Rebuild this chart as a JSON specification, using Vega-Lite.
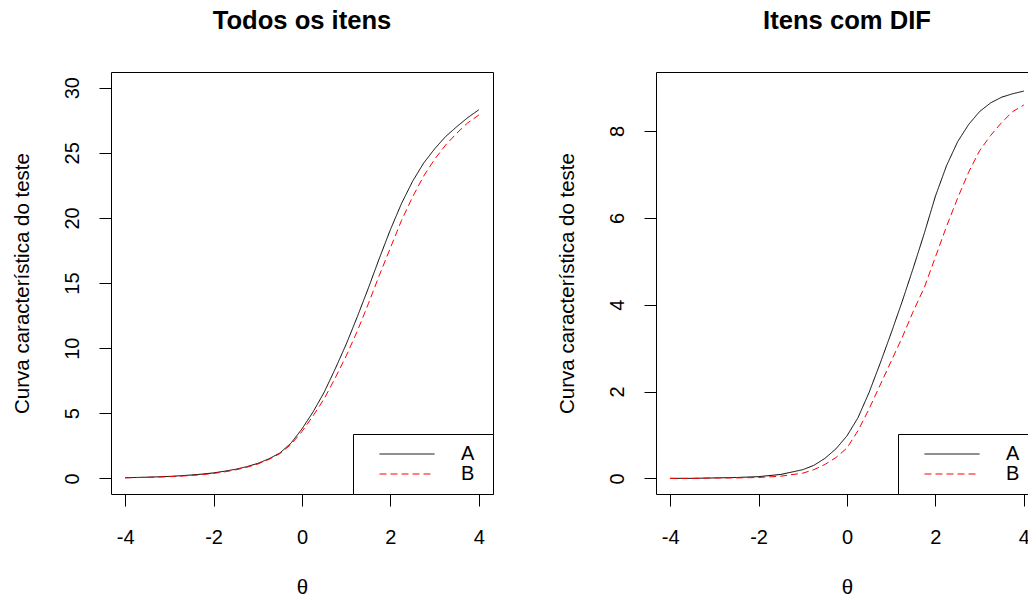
{
  "$schema": "https://vega.github.io/schema/vega-lite/v6.json",
  "padding": {"left": 11, "top": 8, "right": 0, "bottom": 0},
  "spacing": 62,
  "background": "white",
  "config": {
    "font": "Liberation Sans",
    "view": {"stroke": "black", "strokeWidth": 1},
    "axis": {
      "domain": false, "grid": false, "tickColor": "black", "tickSize": 12, "tickWidth": 1,
      "labelFont": "Liberation Sans", "labelFontSize": 20, "labelColor": "black", "labelOverlap": false, "labelFlush": false,
      "labelExpr": "'' + datum.value",
      "titleFont": "Liberation Sans", "titleFontSize": 20.5, "titleFontWeight": "normal", "titleColor": "black"
    },
    "axisY": {"labelAngle": -90, "labelAlign": "center", "labelBaseline": "alphabetic", "labelPadding": 21, "titlePadding": 30},
    "axisX": {"labelPadding": 21, "titlePadding": 30},
    "title": {"font": "Liberation Sans", "fontSize": 25.6, "fontWeight": "bold", "color": "black", "anchor": "middle", "offset": 37},
    "legend": {
      "orient": "bottom-right", "offset": 0, "strokeColor": "black", "fillColor": "white", "padding": 10,
      "labelFont": "Liberation Sans", "labelFontSize": 20, "labelColor": "black",
      "symbolType": "stroke", "symbolSize": 3025, "symbolStrokeWidth": 1, "labelOffset": 26, "rowPadding": 0, "symbolOffset": 16,
      "clipHeight": 20,
      "titleOrient": "right", "titlePadding": 9, "titleFontSize": 1, "titleColor": "white"
    }
  },
  "datasets": {
    "todos": [
      {"theta": -4, "grupo": "A", "valor": 0.05}, {"theta": -3.75, "grupo": "A", "valor": 0.07}, {"theta": -3.5, "grupo": "A", "valor": 0.09},
      {"theta": -3.25, "grupo": "A", "valor": 0.12}, {"theta": -3, "grupo": "A", "valor": 0.15}, {"theta": -2.75, "grupo": "A", "valor": 0.2},
      {"theta": -2.5, "grupo": "A", "valor": 0.26}, {"theta": -2.25, "grupo": "A", "valor": 0.33}, {"theta": -2, "grupo": "A", "valor": 0.42},
      {"theta": -1.75, "grupo": "A", "valor": 0.55}, {"theta": -1.5, "grupo": "A", "valor": 0.7}, {"theta": -1.25, "grupo": "A", "valor": 0.9},
      {"theta": -1, "grupo": "A", "valor": 1.15}, {"theta": -0.75, "grupo": "A", "valor": 1.5}, {"theta": -0.5, "grupo": "A", "valor": 1.95},
      {"theta": -0.25, "grupo": "A", "valor": 2.7}, {"theta": 0, "grupo": "A", "valor": 3.8}, {"theta": 0.25, "grupo": "A", "valor": 5.1},
      {"theta": 0.5, "grupo": "A", "valor": 6.6}, {"theta": 0.75, "grupo": "A", "valor": 8.4}, {"theta": 1, "grupo": "A", "valor": 10.3},
      {"theta": 1.25, "grupo": "A", "valor": 12.4}, {"theta": 1.5, "grupo": "A", "valor": 14.6}, {"theta": 1.75, "grupo": "A", "valor": 16.9},
      {"theta": 2, "grupo": "A", "valor": 19.1}, {"theta": 2.25, "grupo": "A", "valor": 21.1}, {"theta": 2.5, "grupo": "A", "valor": 22.8},
      {"theta": 2.75, "grupo": "A", "valor": 24.2}, {"theta": 3, "grupo": "A", "valor": 25.3}, {"theta": 3.25, "grupo": "A", "valor": 26.25},
      {"theta": 3.5, "grupo": "A", "valor": 27.0}, {"theta": 3.75, "grupo": "A", "valor": 27.7}, {"theta": 4, "grupo": "A", "valor": 28.3},
      {"theta": -4, "grupo": "B", "valor": 0.04}, {"theta": -3.75, "grupo": "B", "valor": 0.06}, {"theta": -3.5, "grupo": "B", "valor": 0.08},
      {"theta": -3.25, "grupo": "B", "valor": 0.1}, {"theta": -3, "grupo": "B", "valor": 0.13}, {"theta": -2.75, "grupo": "B", "valor": 0.17},
      {"theta": -2.5, "grupo": "B", "valor": 0.22}, {"theta": -2.25, "grupo": "B", "valor": 0.29}, {"theta": -2, "grupo": "B", "valor": 0.38},
      {"theta": -1.75, "grupo": "B", "valor": 0.5}, {"theta": -1.5, "grupo": "B", "valor": 0.65}, {"theta": -1.25, "grupo": "B", "valor": 0.85},
      {"theta": -1, "grupo": "B", "valor": 1.1}, {"theta": -0.75, "grupo": "B", "valor": 1.45}, {"theta": -0.5, "grupo": "B", "valor": 1.9},
      {"theta": -0.25, "grupo": "B", "valor": 2.6}, {"theta": 0, "grupo": "B", "valor": 3.6}, {"theta": 0.25, "grupo": "B", "valor": 4.8},
      {"theta": 0.5, "grupo": "B", "valor": 6.1}, {"theta": 0.75, "grupo": "B", "valor": 7.7}, {"theta": 1, "grupo": "B", "valor": 9.4},
      {"theta": 1.25, "grupo": "B", "valor": 11.3}, {"theta": 1.5, "grupo": "B", "valor": 13.4}, {"theta": 1.75, "grupo": "B", "valor": 15.6},
      {"theta": 2, "grupo": "B", "valor": 17.7}, {"theta": 2.25, "grupo": "B", "valor": 19.8}, {"theta": 2.5, "grupo": "B", "valor": 21.6},
      {"theta": 2.75, "grupo": "B", "valor": 23.2}, {"theta": 3, "grupo": "B", "valor": 24.5}, {"theta": 3.25, "grupo": "B", "valor": 25.6},
      {"theta": 3.5, "grupo": "B", "valor": 26.5}, {"theta": 3.75, "grupo": "B", "valor": 27.3}, {"theta": 4, "grupo": "B", "valor": 27.9}
    ],
    "dif": [
      {"theta": -4, "grupo": "A", "valor": 0.0}, {"theta": -3.5, "grupo": "A", "valor": 0.0}, {"theta": -3, "grupo": "A", "valor": 0.01},
      {"theta": -2.5, "grupo": "A", "valor": 0.02}, {"theta": -2, "grupo": "A", "valor": 0.04}, {"theta": -1.5, "grupo": "A", "valor": 0.09},
      {"theta": -1, "grupo": "A", "valor": 0.2}, {"theta": -0.75, "grupo": "A", "valor": 0.3}, {"theta": -0.5, "grupo": "A", "valor": 0.46},
      {"theta": -0.25, "grupo": "A", "valor": 0.68}, {"theta": 0, "grupo": "A", "valor": 0.98}, {"theta": 0.25, "grupo": "A", "valor": 1.4},
      {"theta": 0.5, "grupo": "A", "valor": 1.98}, {"theta": 0.75, "grupo": "A", "valor": 2.65}, {"theta": 1, "grupo": "A", "valor": 3.35},
      {"theta": 1.25, "grupo": "A", "valor": 4.08}, {"theta": 1.5, "grupo": "A", "valor": 4.85}, {"theta": 1.75, "grupo": "A", "valor": 5.65},
      {"theta": 2, "grupo": "A", "valor": 6.5}, {"theta": 2.25, "grupo": "A", "valor": 7.2}, {"theta": 2.5, "grupo": "A", "valor": 7.75},
      {"theta": 2.75, "grupo": "A", "valor": 8.15}, {"theta": 3, "grupo": "A", "valor": 8.45}, {"theta": 3.25, "grupo": "A", "valor": 8.65},
      {"theta": 3.5, "grupo": "A", "valor": 8.78}, {"theta": 3.75, "grupo": "A", "valor": 8.86}, {"theta": 4, "grupo": "A", "valor": 8.92},
      {"theta": -4, "grupo": "B", "valor": 0.0}, {"theta": -3.5, "grupo": "B", "valor": 0.0}, {"theta": -3, "grupo": "B", "valor": 0.01},
      {"theta": -2.5, "grupo": "B", "valor": 0.01}, {"theta": -2, "grupo": "B", "valor": 0.02}, {"theta": -1.5, "grupo": "B", "valor": 0.05},
      {"theta": -1, "grupo": "B", "valor": 0.12}, {"theta": -0.75, "grupo": "B", "valor": 0.2}, {"theta": -0.5, "grupo": "B", "valor": 0.32},
      {"theta": -0.25, "grupo": "B", "valor": 0.48}, {"theta": 0, "grupo": "B", "valor": 0.7}, {"theta": 0.25, "grupo": "B", "valor": 1.1},
      {"theta": 0.5, "grupo": "B", "valor": 1.6}, {"theta": 0.75, "grupo": "B", "valor": 2.15}, {"theta": 1, "grupo": "B", "valor": 2.7},
      {"theta": 1.25, "grupo": "B", "valor": 3.25}, {"theta": 1.5, "grupo": "B", "valor": 3.85}, {"theta": 1.75, "grupo": "B", "valor": 4.4},
      {"theta": 2, "grupo": "B", "valor": 5.1}, {"theta": 2.25, "grupo": "B", "valor": 5.8}, {"theta": 2.5, "grupo": "B", "valor": 6.45},
      {"theta": 2.75, "grupo": "B", "valor": 7.05}, {"theta": 3, "grupo": "B", "valor": 7.55}, {"theta": 3.25, "grupo": "B", "valor": 7.9},
      {"theta": 3.5, "grupo": "B", "valor": 8.2}, {"theta": 3.75, "grupo": "B", "valor": 8.45}, {"theta": 4, "grupo": "B", "valor": 8.6}
    ]
  },
  "hconcat": [
    {
      "title": "Todos os itens",
      "width": 382, "height": 422,
      "data": {"name": "todos"},
      "mark": {"type": "line", "strokeWidth": 1},
      "encoding": {
        "x": {"field": "theta", "type": "quantitative", "title": "θ",
              "scale": {"domain": [-4.32, 4.32], "nice": false, "zero": false},
              "axis": {"values": [-4, -2, 0, 2, 4]}},
        "y": {"field": "valor", "type": "quantitative", "title": "Curva característica do teste",
              "scale": {"domain": [-1.2, 31.2], "nice": false, "zero": false},
              "axis": {"values": [0, 5, 10, 15, 20, 25, 30]}},
        "color": {"field": "grupo", "type": "nominal", "scale": {"domain": ["A", "B"], "range": ["#000000", "#ff0000"]}, "legend": {"title": "\u00a0"}},
        "strokeDash": {"field": "grupo", "type": "nominal", "scale": {"domain": ["A", "B"], "range": [[1, 0], [7, 4]]}, "legend": {"title": "\u00a0"}}
      }
    },
    {
      "title": "Itens com DIF",
      "width": 382, "height": 422,
      "data": {"name": "dif"},
      "mark": {"type": "line", "strokeWidth": 1},
      "encoding": {
        "x": {"field": "theta", "type": "quantitative", "title": "θ",
              "scale": {"domain": [-4.32, 4.32], "nice": false, "zero": false},
              "axis": {"values": [-4, -2, 0, 2, 4]}},
        "y": {"field": "valor", "type": "quantitative", "title": "Curva característica do teste",
              "scale": {"domain": [-0.36, 9.36], "nice": false, "zero": false},
              "axis": {"values": [0, 2, 4, 6, 8]}},
        "color": {"field": "grupo", "type": "nominal", "scale": {"domain": ["A", "B"], "range": ["#000000", "#ff0000"]}, "legend": {"title": "\u00a0"}},
        "strokeDash": {"field": "grupo", "type": "nominal", "scale": {"domain": ["A", "B"], "range": [[1, 0], [7, 4]]}, "legend": {"title": "\u00a0"}}
      }
    }
  ],
  "resolve": {"scale": {"x": "independent", "y": "independent", "color": "independent", "strokeDash": "independent"}, "legend": {"color": "independent", "strokeDash": "independent"}}
}
